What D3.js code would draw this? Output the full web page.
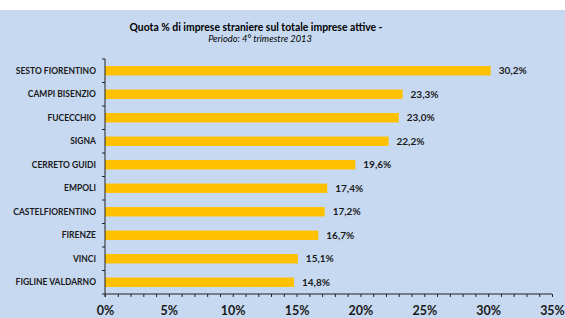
<!DOCTYPE html>
<html>
<head>
<meta charset="utf-8">
<script src="https://cdn.jsdelivr.net/npm/d3@7"></script>
<style>
  body { margin: 0; background: #fff; }
  svg { display: block; font-family: Lato, "Liberation Sans", sans-serif; }
</style>
</head>
<body>
<svg width="565" height="318"></svg>
<script>
var comuni = ["SESTO FIORENTINO", "CAMPI BISENZIO", "FUCECCHIO", "SIGNA", "CERRETO GUIDI",
  "EMPOLI", "CASTELFIORENTINO", "FIRENZE", "VINCI", "FIGLINE VALDARNO"];
var quota = [30.2, 23.3, 23.0, 22.2, 19.6, 17.4, 17.2, 16.7, 15.1, 14.8];
var xTicks = [0, 5, 10, 15, 20, 25, 30, 35];

var svg = d3.select("svg");

svg.append("rect")
.attr("x", 0)
.attr("y", 10)
.attr("width", 565)
.attr("height", 308)
.attr("fill", "#C6D9F1");

svg.append("text")
.attr("x", 256)
.attr("y", 31)
.attr("text-anchor", "middle")
.attr("font-weight", "bold")
.attr("font-size", 10.4)
.text("Quota % di imprese straniere sul totale imprese attive -");

svg.append("text")
.attr("x", 260)
.attr("y", 42)
.attr("text-anchor", "middle")
.attr("font-style", "italic")
.attr("font-size", 9.3)
.text("Periodo: 4° trimestre 2013");

var xScale = d3.scaleLinear().domain([0, 35]).range([105, 552]);
var yScale = d3.scaleBand().domain(comuni).range([59, 294]).paddingInner(0.6).paddingOuter(0.3);
var yBand = d3.scaleBand().domain(comuni).range([59, 294]);

var data = comuni.map(function(c, i) { return {name: c, val: quota[i]}; });

svg.selectAll(".bar")
.data(data)
.enter()
.append("rect")
.attr("class", "bar")
.attr("x", xScale(0))
.attr("y", (d)=>yScale(d.name))
.attr("width", (d)=>xScale(d.val) - xScale(0))
.attr("height", yScale.bandwidth())
.attr("fill", "#FFC000");

svg.selectAll(".val")
.data(data)
.enter()
.append("text")
.attr("class", "val")
.attr("x", (d)=>xScale(d.val) + 8)
.attr("y", (d)=>yScale(d.name) + yScale.bandwidth() / 2)
.attr("dy", "0.35em")
.attr("font-weight", "bold")
.attr("font-size", 10)
.attr("fill", "#1a1a1a")
.text((d)=>d.val.toFixed(1).replace(".", ",") + "%");

// y axis
var yAxis = svg.append("g")
.attr("transform", "translate(" + xScale(0) + ",0)");
yAxis.append("line")
.attr("x1", 0).attr("x2", 0)
.attr("y1", 59).attr("y2", 297)
.attr("stroke", "#222");
yAxis.selectAll(".ytick")
.data(comuni.concat([null]))
.enter()
.append("line")
.attr("x1", -3).attr("x2", 0)
.attr("y1", (d, i)=>59 + i * yBand.step())
.attr("y2", (d, i)=>59 + i * yBand.step())
.attr("stroke", "#222");

svg.selectAll(".cat")
.data(comuni)
.enter()
.append("text")
.attr("class", "cat")
.attr("x", 96)
.attr("y", (d)=>yBand(d) + yBand.bandwidth() / 2)
.attr("dy", "0.35em")
.attr("text-anchor", "end")
.attr("font-weight", "bold")
.attr("font-size", 8.5)
.attr("fill", "#1a1a1a")
.text((d)=>d);

// x axis, minor ticks every 1%
var xMinor = svg.append("g")
.attr("transform", "translate(0,294)")
.call(d3.axisBottom(xScale).ticks(35).tickSize(3).tickFormat(""));
xMinor.selectAll("path, line").attr("stroke", "#222");
xMinor.select(".domain").attr("d", "M" + xScale(0) + ",0H" + xScale(35));

var xAxis = svg.append("g")
.attr("transform", "translate(0,294)")
.call(d3.axisBottom(xScale).tickValues(xTicks).tickSize(0).tickPadding(12)
  .tickFormat((d)=>d + "%"));
xAxis.select(".domain").remove();
xAxis.selectAll("text")
.attr("font-family", "Lato, 'Liberation Sans', sans-serif")
.attr("font-weight", "bold")
.attr("font-size", 12.5)
.attr("fill", "#1a1a1a");
</script>
</body>
</html>
